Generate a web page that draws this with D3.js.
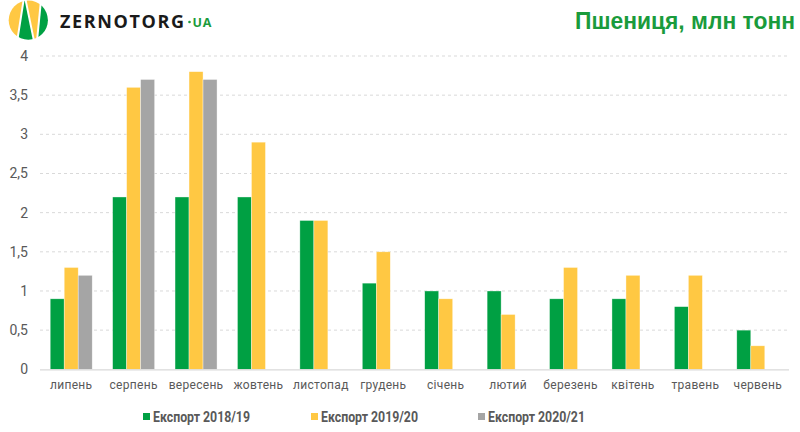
<!DOCTYPE html>
<html><head><meta charset="utf-8">
<script src="https://cdn.jsdelivr.net/npm/d3@7"></script>
<style>body{margin:0;background:#fff;}svg{display:block;font-family:Roboto,"Noto Sans",sans-serif;}</style>
</head><body>
<svg id="c" width="800" height="432"></svg>
<script>
const months = ["липень","серпень","вересень","жовтень","листопад","грудень","січень","лютий","березень","квітень","травень","червень"];
const series = ["Експорт 2018/19","Експорт 2019/20","Експорт 2020/21"];
const exp1819 = [0.9,2.2,2.2,2.2,1.9,1.1,1.0,1.0,0.9,0.9,0.8,0.5];
const exp1920 = [1.3,3.6,3.8,2.9,1.9,1.5,0.9,0.7,1.3,1.2,1.2,0.3];
const exp2021 = [1.2,3.7,3.7,null,null,null,null,null,null,null,null,null];
const yTicks = [0,0.5,1,1.5,2,2.5,3,3.5,4];
const colors = ["#00A043","#FFC843","#A5A5A5"];

(function(){
const svg = d3.select("#c");
const pL = 40, pR = 789, pT = 56, pB = 369.3;
const x = d3.scaleBand().domain(months).range([pL,pR]).paddingInner(0).paddingOuter(0);
const y = d3.scaleLinear().domain([0,4]).range([pB,pT]);
const bw = 14;
const xs = d3.scaleBand().domain(series).range([0,bw*3]);

// gridlines
svg.append("g").selectAll("line").data(yTicks.filter(d=>d>0)).join("line")
  .attr("x1",pL).attr("x2",pR).attr("y1",d=>y(d)).attr("y2",d=>y(d))
  .attr("stroke","#D9D9D9").attr("stroke-width",1).attr("stroke-dasharray","3,3");

// y labels
svg.append("g").selectAll("text").data(yTicks).join("text")
  .attr("x",28).attr("y",d=>y(d)).attr("dy","0.35em").attr("text-anchor","end")
  .attr("font-size",14).attr("fill","#595959").text(d=>String(d).replace(".",","));

// bars
const allSeries = [exp1819,exp1920,exp2021];
allSeries.forEach((vals,si)=>{
  svg.append("g").selectAll("rect").data(months.map((m,i)=>({m,v:vals[i]})).filter(d=>d.v!=null)).join("rect")
    .attr("x",d=>x(d.m)+x.bandwidth()/2-bw*1.5+xs(series[si]))
    .attr("y",d=>y(d.v)).attr("width",bw).attr("height",d=>pB-y(d.v))
    .attr("fill",colors[si]).attr("stroke","#fff").attr("stroke-opacity",0.6).attr("stroke-width",0.6);
});

// baseline
svg.append("line").attr("x1",pL).attr("x2",pR).attr("y1",pB+0.5).attr("y2",pB+0.5)
  .attr("stroke","#D9D9D9").attr("stroke-width",1.2);

// x labels
svg.append("g").selectAll("text").data(months).join("text")
  .attr("x",d=>x(d)+x.bandwidth()/2).attr("y",389).attr("text-anchor","middle")
  .attr("font-size",12).attr("fill","#595959").attr("letter-spacing",0.3).text(d=>d);

// legend
const legX = [143,311,478];
series.forEach((s,i)=>{
  svg.append("rect").attr("x",legX[i]).attr("y",413).attr("width",7).attr("height",7).attr("fill",colors[i]);
  svg.append("text").attr("x",legX[i]+10).attr("y",421.5).attr("font-size",14).attr("font-weight","bold")
    .attr("fill","#595959").attr("textLength",97).attr("lengthAdjust","spacingAndGlyphs").text(s);
});

// title
svg.append("text").attr("x",795).attr("y",29).attr("text-anchor","end").attr("font-size",23)
  .attr("font-weight","bold").attr("fill","#1A9B3C").attr("font-family","'Liberation Sans',Arial,sans-serif")
  .attr("textLength",220).attr("lengthAdjust","spacingAndGlyphs").text("Пшениця, млн тонн");

// logo
const defs = svg.append("defs");
defs.append("clipPath").attr("id","lc").append("circle").attr("cx",28.3).attr("cy",20.2).attr("r",19.6);
const lg = svg.append("g").attr("clip-path","url(#lc)");
lg.append("rect").attr("x",8).attr("y",0).attr("width",42).attr("height",42).attr("fill","#fff");
lg.append("polygon").attr("points","8,0 22.6,0 16.2,41 8,41").attr("fill","#FFC843");
lg.append("polygon").attr("points","24.6,0 18.2,41 33,41").attr("fill","#00A043");
lg.append("polygon").attr("points","26.6,0 40,0 36,41 35,41").attr("fill","#FFC843");
lg.append("polygon").attr("points","42,0 50,0 50,41 38,41").attr("fill","#00A043");
svg.append("text").attr("x",60).attr("y",27.5).attr("font-size",18).attr("font-weight","bold")
  .attr("fill","#1A1A1A").attr("font-family","'Open Sans',sans-serif")
  .attr("textLength",124).attr("lengthAdjust","spacing").text("ZERNOTORG");
svg.append("circle").attr("cx",189.5).attr("cy",22).attr("r",1.3).attr("fill","#1A9B3C");
svg.append("text").attr("x",192.5).attr("y",26.5).attr("font-size",12.5).attr("font-weight","bold")
  .attr("fill","#1A9B3C").attr("font-family","'Open Sans',sans-serif").attr("letter-spacing",0.8).text("UA");
})();
</script>
</body></html>
